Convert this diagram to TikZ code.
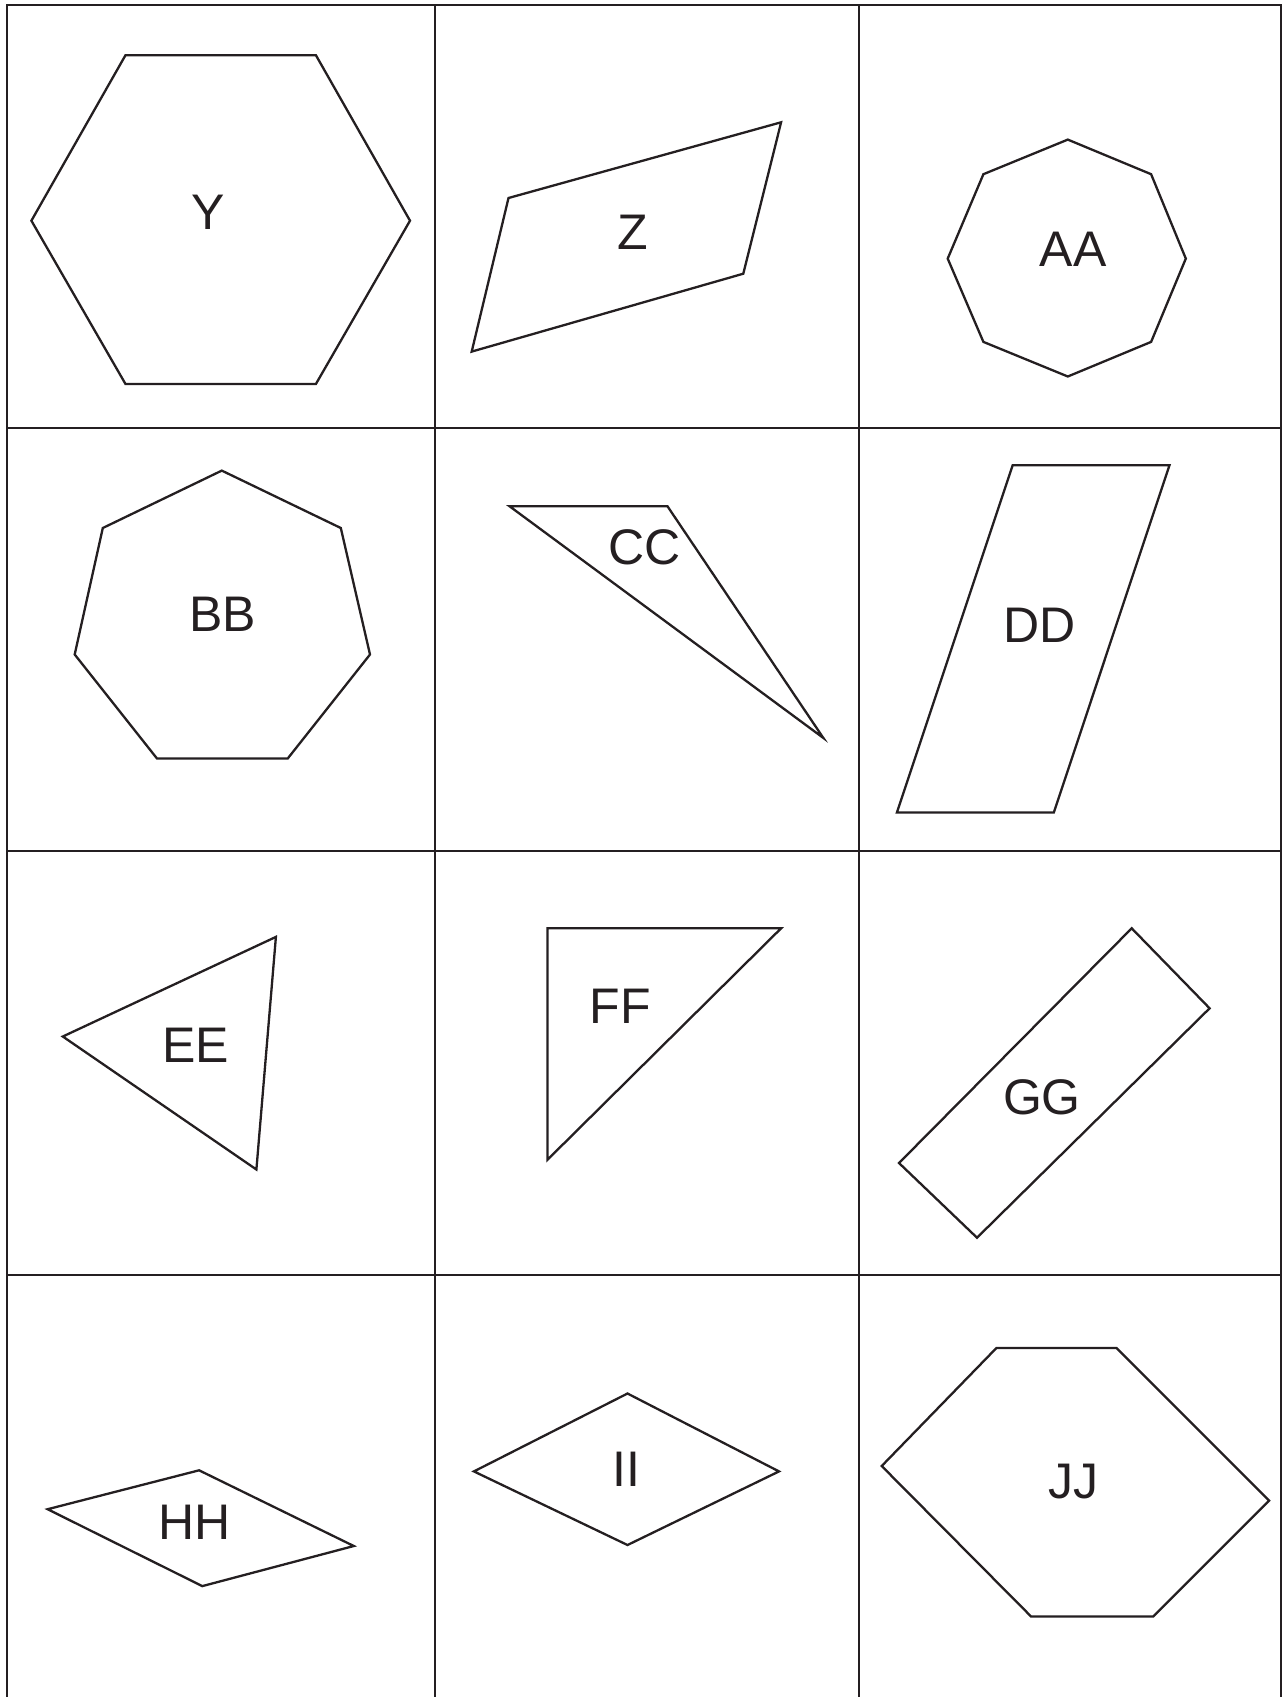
\documentclass[tikz,border=0pt]{standalone}
\usepackage{fontspec}
\setmainfont{Liberation Sans}
\usepackage{tikz}
\definecolor{mink}{rgb}{0.14, 0.12, 0.13}
\tikzset{
  cellline/.style={mink, line width=2.8pt},
  figline/.style={mink, line width=2.3pt, line join=miter},
  figlabel/.style={mink, inner sep=0pt, font=\fontsize{50}{60}\selectfont}
}

\begin{document}
\begin{tikzpicture}[x=1pt, y=-1pt]
      \useasboundingbox (0, 0) rectangle (1282, 1697);

      % grid of the twelve cells
      \draw [cellline] (7, 1697) -- (7, 5) -- (1281, 5) -- (1281, 1697);
      \draw [cellline] (435, 5) -- (435, 1697);
      \draw [cellline] (859, 5) -- (859, 1697);
      \draw [cellline] (7, 428) -- (1281, 428);
      \draw [cellline] (7, 851) -- (1281, 851);
      \draw [cellline] (7, 1275) -- (1281, 1275);

      % first row
      \draw [figline] (125.5, 55.2) -- (315.9, 55.2) -- (410, 220.7) -- (315.9, 384) -- (125.5, 384) -- (31.4, 220.7) -- cycle;
      \node [figlabel] (labY) at (208.5, 212) {Y};

      \draw [figline] (508.5, 198) -- (781.1, 122.3) -- (743.3, 273.7) -- (471.7, 351.6) -- cycle;
      \node [figlabel] (labZ) at (633, 232.6) {Z};

      \draw [figline] (1067.8, 139.6) -- (1151.1, 174.2) -- (1185.8, 258.6) -- (1151.1, 341.9) -- (1067.8, 376.5) -- (983.4, 341.9) -- (947.7, 258.6) -- (983.4, 174.2) -- cycle;
      \node [figlabel] (labAA) at (1073, 249.5) {AA};

      % second row
      \draw [figline] (221.8, 470.6) -- (340.8, 528) -- (370, 654.5) -- (287.8, 758.4) -- (156.9, 758.4) -- (74.7, 654.5) -- (102.8, 528) -- cycle;
      \node [figlabel] (labBB) at (222.9, 614.5) {BB};

      \draw [figline] (509.6, 506.3) -- (667.5, 506.3) -- (823.3, 737.9) -- cycle;
      \node [figlabel] (labCC) at (645, 547.5) {CC};

      \draw [figline] (1012.7, 465.2) -- (1169.5, 465.2) -- (1053.8, 812.5) -- (896.9, 812.5) -- cycle;
      \node [figlabel] (labDD) at (1039.7, 625.3) {DD};

      % third row
      \draw [figline] (275.9, 936.9) -- (256.4, 1169.5) -- (62.8, 1036.5) -- cycle;
      \node [figlabel] (labEE) at (195.8, 1045.1) {EE};

      \draw [figline] (547.4, 928.3) -- (781.1, 928.3) -- (547.4, 1159.8) -- cycle;
      \node [figlabel] (labFF) at (620, 1006.2) {FF};

      \draw [figline] (1131.7, 928.3) -- (1209.6, 1008.3) -- (977, 1237.7) -- (899, 1163) -- cycle;
      \node [figlabel] (labGG) at (1041.9, 1097) {GG};

      % fourth row
      \draw [figline] (199.1, 1470.3) -- (353.8, 1546) -- (202.3, 1586.1) -- (47.6, 1509.2) -- cycle;
      \node [figlabel] (labHH) at (195, 1522) {HH};

      \draw [figline] (627.5, 1393.5) -- (779, 1471.4) -- (627.5, 1545) -- (473.9, 1471.4) -- cycle;
      \node [figlabel] (labII) at (626.5, 1469.5) {II};

      \draw [figline] (996.4, 1348) -- (1116.5, 1348) -- (1269, 1500.6) -- (1153.3, 1616.4) -- (1031, 1616.4) -- (881.7, 1466) -- cycle;
      \node [figlabel] (labJJ) at (1073.2, 1481.1) {JJ};
\end{tikzpicture}
\end{document}
